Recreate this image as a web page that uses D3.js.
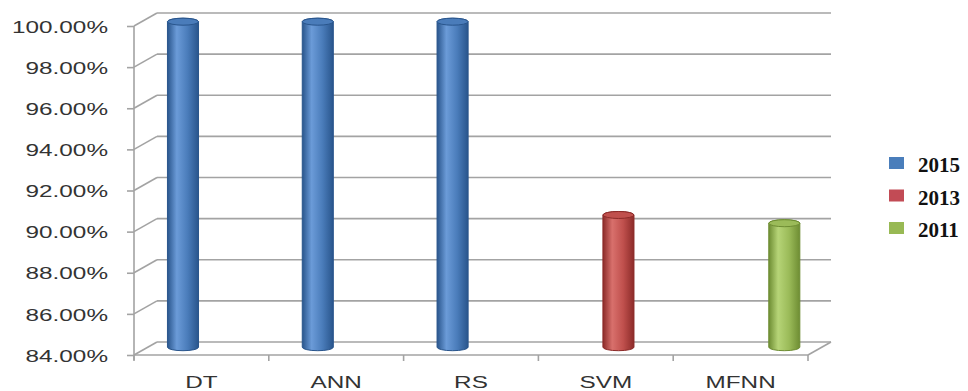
<!DOCTYPE html>
<html>
<head>
<meta charset="utf-8">
<script src="https://cdn.jsdelivr.net/npm/d3@7"></script>
<style>
  html, body { margin: 0; padding: 0; background: #fff; }
  svg { display: block; }
</style>
</head>
<body>
<svg id="chart" width="968" height="391"></svg>
<script>
// Accuracy of classification methods by publication year
const categories = ["DT", "ANN", "RS", "SVM", "MFNN"];
const seriesNames = ["2015", "2013", "2011"];
const values2015 = [100, 100, 100, null, null];
const values2013 = [null, null, null, 90.6, null];
const values2011 = [null, null, null, null, 90.2];
const yTicks = [84, 86, 88, 90, 92, 94, 96, 98, 100];

const seriesValues = [values2015, values2013, values2011];
const palette = {
  "2015": { base: "#4a7cba", dark: "#29558c", light: "#6b9bd8", key: "#4a7ebb" },
  "2013": { base: "#c0504d", dark: "#8c2b29", light: "#d8706c", key: "#c24b55" },
  "2011": { base: "#9bbb59", dark: "#6e8d33", light: "#b6d477", key: "#98b954" }
};

const svg = d3.select("#chart");

// 3D box: front plane plus a receding back wall
const plotLeft = 134, plotRight = 808, plotTop = 26, plotBottom = 355;
const depth = { dx: 23, dy: -13 };

const x0 = d3.scaleBand().domain(categories).range([plotLeft, plotRight]);
const x1 = d3.scaleBand().domain(seriesNames).range([0, x0.bandwidth()])
  .paddingInner(0).paddingOuter(0.67);
const y = d3.scaleLinear().domain([84, 100]).range([plotBottom, plotTop]);

const gridColor = "#a3a3a3";
const grid = svg.append("g").attr("fill", "none").attr("stroke", gridColor).attr("stroke-width", 1.6);

// back wall gridlines
grid.selectAll("line.back").data(yTicks).join("line")
  .attr("class", "back")
  .attr("x1", plotLeft + depth.dx).attr("x2", plotRight + depth.dx)
  .attr("y1", d => y(d) + depth.dy).attr("y2", d => y(d) + depth.dy);

// side wall diagonals
grid.selectAll("line.side").data(yTicks).join("line")
  .attr("class", "side")
  .attr("x1", plotLeft).attr("x2", plotLeft + depth.dx)
  .attr("y1", d => y(d)).attr("y2", d => y(d) + depth.dy);

// floor: front edge and right edge
grid.append("line")
  .attr("x1", plotLeft).attr("x2", plotRight)
  .attr("y1", y(84)).attr("y2", y(84));
grid.append("line")
  .attr("x1", plotRight).attr("x2", plotRight + depth.dx)
  .attr("y1", y(84)).attr("y2", y(84) + depth.dy);

// category boundary ticks under the floor
const bounds = categories.map(c => x0(c)).concat([plotRight]);
grid.selectAll("line.xt").data(bounds).join("line")
  .attr("class", "xt")
  .attr("x1", d => d).attr("x2", d => d)
  .attr("y1", y(84)).attr("y2", y(84) + 6);

// value axis
const yAxis = d3.axisLeft(y)
  .tickValues(yTicks)
  .tickSize(7)
  .tickSizeOuter(0)
  .tickPadding(19)
  .tickFormat(d => d.toFixed(2) + "%");

const gy = svg.append("g").attr("transform", `translate(${plotLeft},0)`).call(yAxis);
gy.select(".domain").attr("stroke", gridColor).attr("stroke-width", 1.6)
  .attr("d", `M0,${plotTop}V${plotBottom + 5}`);
gy.selectAll(".tick line").attr("stroke", gridColor).attr("stroke-width", 1.6);
gy.selectAll(".tick text")
  .attr("x", 0).attr("dy", "0.36em")
  .attr("transform", "translate(-26,0) scale(1.43,1)")
  .attr("fill", "#333")
  .style("font-family", "'Liberation Sans', Arial, sans-serif")
  .style("font-size", "17px");

// category labels
const xAxis = d3.axisBottom(x0).tickSize(0).tickPadding(0);
const gx = svg.append("g").attr("transform", `translate(0,${plotBottom})`).call(xAxis);
gx.select(".domain").remove();
gx.selectAll(".tick text")
  .attr("y", 0).attr("dy", 0)
  .attr("transform", "translate(0,33) scale(1.43,1)")
  .attr("fill", "#333")
  .style("font-family", "'Liberation Sans', Arial, sans-serif")
  .style("font-size", "17px");

// cylinder gradients
const defs = svg.append("defs");
seriesNames.forEach(s => {
  const c = palette[s];
  const g = defs.append("linearGradient").attr("id", "cyl" + s)
    .attr("x1", "0%").attr("x2", "100%").attr("y1", "0%").attr("y2", "0%");
  g.append("stop").attr("offset", "0%").attr("stop-color", c.dark);
  g.append("stop").attr("offset", "30%").attr("stop-color", c.light);
  g.append("stop").attr("offset", "65%").attr("stop-color", c.base);
  g.append("stop").attr("offset", "100%").attr("stop-color", c.dark);
});

// bars sit partway into the depth of the box
const midDx = depth.dx * 0.55, midDy = depth.dy * 0.6;
const barData = [];
seriesNames.forEach((s, si) => {
  seriesValues[si].forEach((v, ci) => {
    if (v != null) barData.push({ series: s, category: categories[ci], value: v });
  });
});

const ry = 3.5;
const bars = svg.append("g").selectAll("g").data(barData).join("g");
bars.append("path")
  .attr("d", d => {
    const w = x1.bandwidth();
    const r = w / 2;
    const cx = x0(d.category) + x1(d.series) + r + midDx;
    const yT = y(d.value) + midDy + ry;
    const yB = y(84) + midDy;
    return `M${cx - r},${yT}L${cx - r},${yB}A${r},${ry} 0 0 0 ${cx + r},${yB}` +
           `L${cx + r},${yT}A${r},${ry} 0 0 0 ${cx - r},${yT}Z`;
  })
  .attr("fill", d => `url(#cyl${d.series})`)
  .attr("stroke", d => palette[d.series].dark)
  .attr("stroke-width", 1);
bars.append("ellipse")
  .attr("cx", d => x0(d.category) + x1(d.series) + x1.bandwidth() / 2 + midDx)
  .attr("cy", d => y(d.value) + midDy + ry)
  .attr("rx", x1.bandwidth() / 2)
  .attr("ry", ry)
  .attr("fill", d => palette[d.series].base)
  .attr("stroke", d => palette[d.series].dark)
  .attr("stroke-width", 1);

// legend
const legend = svg.append("g").attr("transform", "translate(889,0)");
const legendY = d3.scalePoint().domain(seriesNames).range([172, 237]);
const items = legend.selectAll("g").data(seriesNames).join("g")
  .attr("transform", d => `translate(0,${legendY(d)})`);
items.append("rect")
  .attr("x", 0).attr("y", -15).attr("width", 15).attr("height", 12)
  .attr("fill", d => palette[d].key);
items.append("text")
  .attr("x", 29).attr("y", 0)
  .attr("fill", "#111")
  .style("font-family", "'Liberation Serif', 'Times New Roman', serif")
  .style("font-weight", "bold")
  .style("font-size", "21px")
  .text(d => d);
</script>
</body>
</html>
